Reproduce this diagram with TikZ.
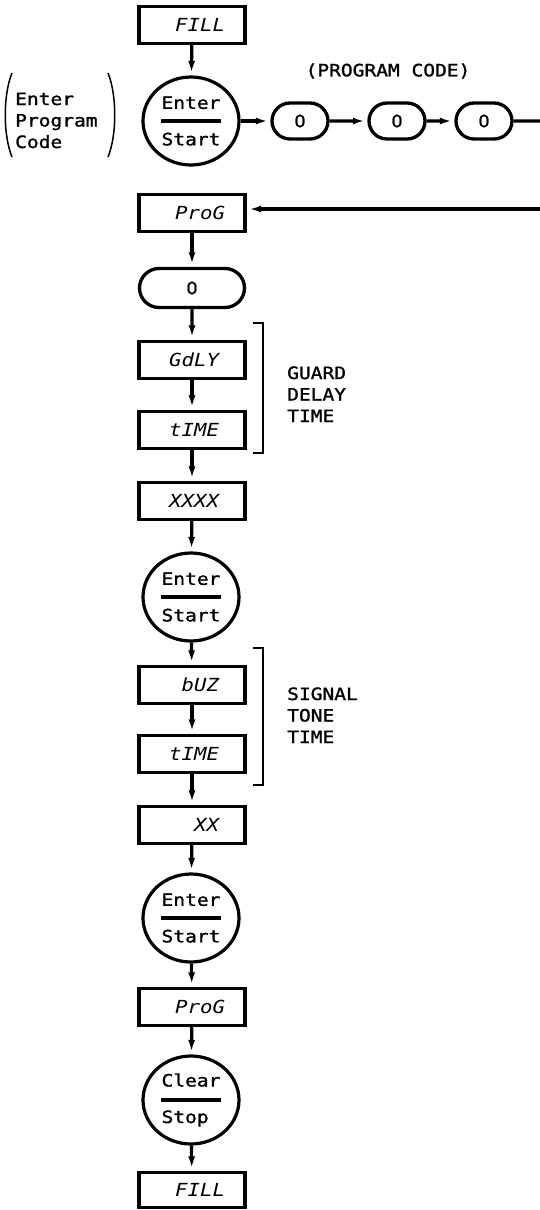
\documentclass[tikz,border=0pt]{standalone}
\usepackage{fontspec}
\newfontfamily\plot[FakeStretch=1.15]{DejaVu Sans Mono}
\newfontfamily\plotm[FakeStretch=1.15,FakeBold=1.3]{DejaVu Sans Mono}
\newfontfamily\plotz[FakeStretch=1.05,FakeBold=1.3]{DejaVu Sans}
\usetikzlibrary{shapes.geometric,shapes.misc,arrows.meta}
\newcommand{\dtxt}[2][0pt]{\makebox[54pt][r]{#2\kern-#1}}
\newcommand{\zro}{{\plotz 0}}
\begin{document}
\begin{tikzpicture}[x=1pt,y=-1pt,
  every node/.style={font=\plotm\fontsize{17}{21.5}\selectfont},
  disp/.style={draw, line width=3.3pt, minimum width=106pt, minimum height=37pt, inner sep=0pt,
    font=\plot\itshape\fontsize{18}{21}\selectfont},
  key/.style={draw, ellipse, line width=3.2pt, minimum width=96pt, minimum height=88pt, inner sep=0pt,
    align=left,
    path picture={\draw[line width=3.2pt] ([xshift=-30pt]path picture bounding box.center) -- ([xshift=30pt]path picture bounding box.center);}},
  pill/.style={draw, rounded rectangle, line width=3.3pt, minimum width=56pt, minimum height=36pt, inner sep=0pt},
  conn/.style={line width=3.2pt, -{Latex[length=12pt,width=7pt]}, shorten >=2.5pt},
  plain/.style={line width=3.2pt},
  brk/.style={line width=1.5pt},
]
\useasboundingbox (0,0) rectangle (540,1210);

% top part
\node[disp] (fill1) at (192,25) {\dtxt[6pt]{FILL}};
\node[key] (k1) at (191,121) {Enter\\[15pt]Start};
\node[anchor=base west, align=left, inner sep=0pt] (lt) at (15,148) {Enter\\Program\\Code};
\draw[brk] (12,73) .. controls (3,95) and (3,135) .. (12,157);
\draw[brk] (108,73) .. controls (117,95) and (117,135) .. (108,157);
\node (pc) at (388,71) {(PROGRAM CODE)};
\node[pill] (p1) at (300,121) {\zro};
\node[pill] (p2) at (397,121) {\zro};
\node[pill] (p3) at (484,121) {\zro};
\coordinate (re1) at (540,121);
\coordinate (re2) at (540,209);

\node[disp] (prog1) at (192,213) {\dtxt[6pt]{ProG}};
\node[pill, minimum width=105pt, minimum height=39pt] (z) at (192,288) {\zro};
\node[disp] (gdly) at (192,360) {\dtxt{GdLY}};
\node[disp] (time1) at (192,430) {\dtxt{tIME}};
\node[disp] (x4) at (192,501) {\dtxt{XXXX}};
\node[key] (k2) at (191,597) {Enter\\[15pt]Start};
\node[disp] (buz) at (192,685) {\dtxt{bUZ}};
\node[disp] (time2) at (192,754) {\dtxt{tIME}};
\node[disp] (xx) at (192,825) {\dtxt{XX}};
\node[key] (k3) at (191,918) {Enter\\[15pt]Start};
\node[disp] (prog2) at (192,1007) {\dtxt[6pt]{ProG}};
\node[key] (k4) at (191,1100) {Clear\\[15pt]Stop};
\node[disp, minimum height=35pt] (fill2) at (192,1190) {\dtxt[6pt]{FILL}};

% brackets and notes
\draw[brk] (253,323) -- (263,323) -- (263,453) -- (253,453);
\draw[brk] (253,648) -- (263,648) -- (263,785) -- (253,785);
\node[anchor=base west, align=left, inner sep=0pt] (gd) at (287,422) {GUARD\\DELAY\\TIME};
\node[anchor=base west, align=left, inner sep=0pt] (st) at (287,743) {SIGNAL\\TONE\\TIME};

% connectors
\draw[conn] (fill1) -- (k1);
\draw[conn] (k1) -- (p1);
\draw[conn] (p1) -- (p2);
\draw[conn] (p2) -- (p3);
\draw[plain] (p3) -- (re1);
\draw[conn] (re2) -- (re2 -| prog1.east);
\draw[conn] (prog1) -- (z);
\draw[conn] (z) -- (gdly);
\draw[conn] (gdly) -- (time1);
\draw[conn] (time1) -- (x4);
\draw[conn] (x4) -- (k2);
\draw[conn] (k2) -- (buz);
\draw[conn] (buz) -- (time2);
\draw[conn] (time2) -- (xx);
\draw[conn] (xx) -- (k3);
\draw[conn] (k3) -- (prog2);
\draw[conn] (prog2) -- (k4);
\draw[conn] (k4) -- (fill2);
\end{tikzpicture}
\end{document}
